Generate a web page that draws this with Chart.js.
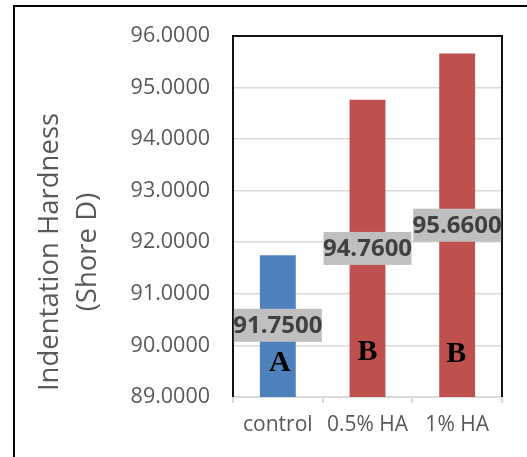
<!DOCTYPE html>
<html>
<head>
<meta charset="utf-8">
<script src="https://cdn.jsdelivr.net/npm/chart.js@4"></script>
<style>
html, body { margin: 0; padding: 0; background: #fff; }
#wrap { width: 527px; height: 457px; position: relative; }
</style>
</head>
<body>
<div id="wrap"><canvas id="myChart"></canvas></div>
<script>
// data
var categories = ['control', '0.5% HA', '1% HA'];
var hardness = [91.75, 94.76, 95.66];
var groupLetters = ['A', 'B', 'B'];
var barColors = ['#4F81BD', '#C0504D', '#C0504D'];
var yTicks = [89, 90, 91, 92, 93, 94, 95, 96];
var axisTitle = ['Indentation Hardness', '(Shore D)'];

// frame, value boxes, letters and the y title
var decor = {
    id: 'decor',
    beforeDraw: function (chart) {
        var ctx = chart.ctx;
        ctx.save();
        ctx.strokeStyle = '#000';
        ctx.lineWidth = 2;
        ctx.beginPath();
        ctx.moveTo(14, 457);
        ctx.lineTo(14, 6);
        ctx.lineTo(527, 6);
        ctx.stroke();
        ctx.restore();
    },
    afterDatasetsDraw: function (chart, args, opts) {
        var ctx = chart.ctx;
        var a = chart.chartArea;
        var x = chart.scales.x, y = chart.scales.y;
        ctx.save();
        // plot area border (top, left, right)
        ctx.strokeStyle = '#111';
        ctx.lineWidth = 2;
        ctx.beginPath();
        ctx.moveTo(a.left, a.bottom);
        ctx.lineTo(a.left, a.top);
        ctx.lineTo(a.right, a.top);
        ctx.lineTo(a.right, a.bottom);
        ctx.stroke();

        for (var i = 0; i < hardness.length; i++) {
            var cx = x.getPixelForValue(i);
            // value label box
            var ly = y.getPixelForValue(opts.labelAt[i]);
            ctx.fillStyle = '#BFBFBF';
            ctx.fillRect(cx - 44, ly - 16.5, 88, 33);
            ctx.fillStyle = '#404040';
            ctx.font = 'bold 24px "Open Sans"';
            ctx.textAlign = 'center';
            ctx.textBaseline = 'middle';
            ctx.fillText(hardness[i].toFixed(4), cx, ly + 1);
            // significance letter
            var ty = y.getPixelForValue(opts.letterAt[i]);
            ctx.fillStyle = '#000';
            ctx.font = 'bold 30px "Liberation Serif"';
            ctx.fillText(groupLetters[i], cx + opts.letterDx[i], ty);
        }
        ctx.restore();
    },
    afterDraw: function (chart) {
        var ctx = chart.ctx;
        ctx.save();
        ctx.translate(50, 252);
        ctx.rotate(-Math.PI / 2);
        ctx.fillStyle = '#595959';
        ctx.font = '27.5px "Open Sans"';
        ctx.textAlign = 'center';
        ctx.textBaseline = 'middle';
        ctx.fillText(axisTitle[0], 0, 0);
        ctx.fillText(axisTitle[1], 0, 38);
        ctx.restore();
    }
};

var ctx = document.getElementById('myChart');
var myChart = new Chart(ctx, {
    type: 'bar',
    data: {
        labels: categories,
        datasets: [{
            data: hardness,
            backgroundColor: barColors,
            barPercentage: 0.4,
            categoryPercentage: 1.0
        }]
    },
    options: {
        responsive: true,
        maintainAspectRatio: false,
        animation: false,
        layout: { padding: { top: 35, right: 25, bottom: 0, left: 0 } },
        plugins: {
            legend: { display: false },
            tooltip: { enabled: false },
            decor: {
                labelAt: [90.39, 91.88, 92.33],
                letterAt: [89.66, 89.87, 89.83],
                letterDx: [2, 0, -1]
            }
        },
        scales: {
            x: {
                afterFit: function (s) { s.height = 60; },
                grid: {
                    drawOnChartArea: false,
                    offset: true,
                    tickLength: 6,
                    color: '#D9D9D9',
                    lineWidth: 2
                },
                border: { color: '#D9D9D9', width: 2 },
                ticks: {
                    color: '#595959',
                    font: { family: 'Open Sans', size: 21 },
                    padding: 9
                }
            },
            y: {
                min: yTicks[0],
                max: yTicks[yTicks.length - 1],
                afterFit: function (s) { s.width = 233; },
                grid: {
                    color: '#D9D9D9',
                    lineWidth: 1.5,
                    drawTicks: false
                },
                border: { display: false },
                ticks: {
                    stepSize: 1,
                    color: '#595959',
                    font: { family: 'Open Sans', size: 21.5 },
                    padding: 23,
                    callback: function (v) { return v.toFixed(4); }
                }
            }
        }
    },
    plugins: [decor]
});
</script>
</body>
</html>
